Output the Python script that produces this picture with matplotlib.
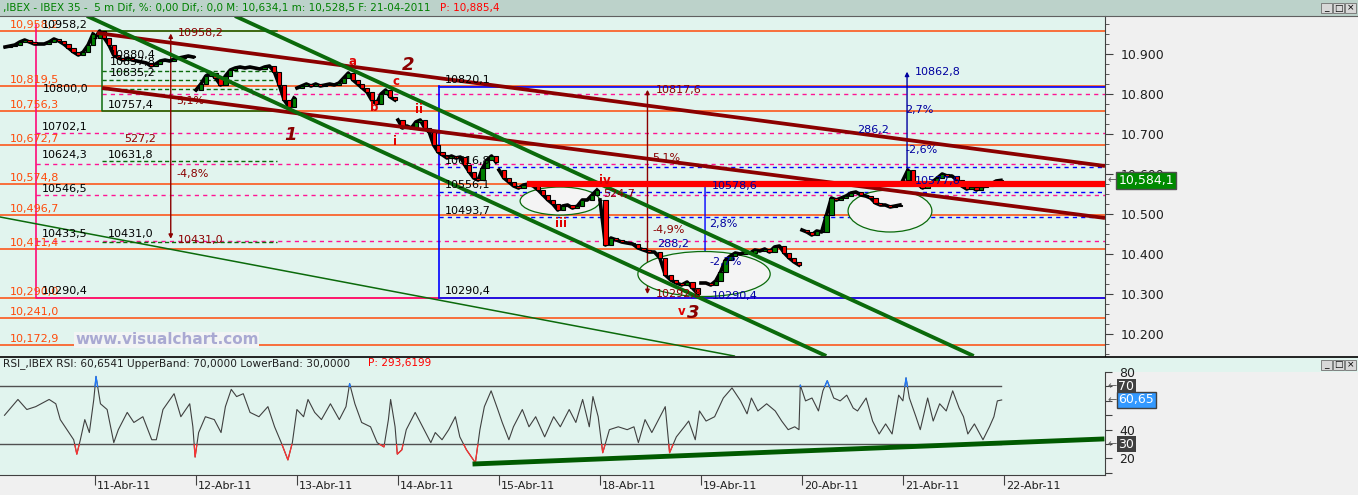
import numpy as np
import matplotlib
matplotlib.use("Agg")
import matplotlib.pyplot as plt
from matplotlib.patches import Rectangle, Ellipse

# ---------------- data ----------------
day_labels = ['11-Abr-11', '12-Abr-11', '13-Abr-11', '14-Abr-11', '15-Abr-11',
              '18-Abr-11', '19-Abr-11', '20-Abr-11', '21-Abr-11', '22-Abr-11']

# closes sampled along each session (IBEX 35, 5 min)
close_0408 = [10917.5, 10920, 10922.5, 10930, 10935, 10930, 10925, 10925, 10925, 10930,
              10937.5, 10932.5, 10925, 10915, 10905, 10897.5, 10905, 10922.5, 10950]
close_0411 = [10940, 10957.5, 10940, 10922.5, 10897.5, 10890, 10885, 10890, 10885, 10882.5,
              10880, 10877.5, 10870, 10875, 10882.5, 10885, 10882.5, 10887.5, 10890, 10892.5,
              10895, 10892.5]
close_0412 = [10810, 10825, 10845, 10852.5, 10840, 10822.5, 10845, 10860, 10865, 10867.5,
              10865, 10867.5, 10865, 10862.5, 10867.5, 10870, 10855, 10822.5, 10785, 10767.5,
              10790]
close_0413 = [10815, 10820, 10825, 10820, 10825, 10820, 10822.5, 10825, 10822.5, 10827.5,
              10840, 10852.5, 10835, 10825, 10815, 10805, 10785, 10775, 10800, 10810,
              10792.5, 10785]
close_0414 = [10735, 10715, 10720, 10715, 10730, 10735, 10715, 10705, 10672.5, 10655,
              10647.5, 10640, 10645, 10640, 10642.5, 10622.5, 10605, 10590, 10585, 10615,
              10635, 10645, 10630]
close_0415 = [10610, 10590, 10580, 10570, 10565, 10572.5, 10575, 10570, 10560, 10547.5,
              10535, 10525, 10510, 10520, 10522.5, 10515, 10520, 10535, 10535, 10547.5,
              10560]
close_0418 = [10535, 10422.5, 10440, 10435, 10430, 10427.5, 10425, 10415, 10410, 10405,
              10405, 10390, 10347.5, 10335, 10327.5, 10322.5, 10330, 10315, 10300]
close_0419 = [10327.5, 10327.5, 10322.5, 10332.5, 10355, 10385, 10395, 10402.5, 10400, 10405,
              10402.5, 10410, 10407.5, 10412.5, 10405, 10417.5, 10420, 10402.5, 10390, 10380,
              10372.5]
close_0420 = [10460, 10455, 10447.5, 10457.5, 10455, 10497.5, 10540, 10535, 10540, 10545,
              10552.5, 10555, 10547.5, 10545, 10540, 10527.5, 10522.5, 10522.5, 10517.5, 10520,
              10522.5]
close_0421 = [10585, 10610, 10577.5, 10575, 10565, 10572.5, 10580, 10590, 10600, 10595,
              10595, 10585, 10570, 10562.5, 10567.5, 10560, 10567.5, 10570, 10575, 10582.5,
              10584.1]

sessions = [close_0408, close_0411, close_0412, close_0413, close_0414,
            close_0415, close_0418, close_0419, close_0420, close_0421]
session_start = [-0.89, 0, 1, 2, 3, 4, 5, 6, 7, 8]
session_end = [-0.02, 0.97, 1.97, 2.97, 3.97, 4.97, 5.97, 6.97, 7.97, 8.97]

# RSI (time in trading days from 11-Abr, value)
rsi_t = [-0.896, -0.763, -0.675, -0.587, -0.454, -0.388, -0.344, -0.277, -0.211, -0.180,
         -0.145, -0.101, -0.056, -0.012, 0.010, 0.054, 0.120, 0.186, 0.231, 0.319,
         0.385, 0.474, 0.562, 0.607, 0.673, 0.783, 0.850, 0.938, 0.969, 0.991,
         1.026, 1.093, 1.181, 1.248, 1.291, 1.349, 1.402, 1.468, 1.535, 1.623,
         1.712, 1.778, 1.844, 1.910, 1.954, 1.999, 2.065, 2.109, 2.175, 2.242,
         2.331, 2.419, 2.485, 2.521, 2.573, 2.640, 2.728, 2.794, 2.861, 2.905,
         2.927, 2.971, 2.993, 3.038, 3.082, 3.170, 3.259, 3.325, 3.369, 3.436,
         3.502, 3.568, 3.612, 3.678, 3.766, 3.811, 3.855, 3.922, 3.988, 4.032,
         4.098, 4.143, 4.231, 4.297, 4.363, 4.452, 4.541, 4.607, 4.695, 4.761,
         4.828, 4.894, 4.930, 4.982, 5.027, 5.093, 5.181, 5.269, 5.336, 5.380,
         5.446, 5.513, 5.579, 5.646, 5.689, 5.756, 5.835, 5.878, 5.943, 5.985,
         6.050, 6.135, 6.221, 6.307, 6.392, 6.456, 6.499, 6.563, 6.650, 6.735,
         6.799, 6.863, 6.928, 6.970, 6.983, 7.035, 7.099, 7.163, 7.207, 7.250,
         7.314, 7.378, 7.443, 7.507, 7.550, 7.635, 7.699, 7.764, 7.828, 7.892,
         7.957, 7.999, 8.030, 8.063, 8.128, 8.171, 8.244, 8.299, 8.363, 8.428,
         8.492, 8.556, 8.599, 8.642, 8.707, 8.792, 8.856, 8.900, 8.934, 8.977]
rsi_v = [50, 61, 54, 56, 61, 58, 47, 40, 33, 23,
         33, 47, 38, 61, 77, 58, 54, 31, 40, 52,
         45, 49, 33, 33, 54, 65, 49, 58, 42, 21,
         38, 49, 47, 38, 56, 68, 63, 65, 52, 49,
         56, 42, 31, 19, 31, 54, 49, 61, 52, 47,
         58, 47, 56, 72, 58, 45, 42, 31, 28, 47,
         61, 42, 23, 26, 40, 52, 40, 31, 38, 33,
         40, 49, 35, 26, 17, 40, 56, 67, 54, 45,
         33, 42, 54, 42, 49, 35, 49, 42, 54, 45,
         61, 42, 63, 49, 24, 40, 42, 40, 42, 31,
         47, 38, 47, 56, 24, 35, 42, 46, 33, 53,
         46, 49, 62, 69, 60, 51, 62, 53, 58, 53,
         46, 40, 42, 40, 71, 60, 62, 53, 67, 74,
         62, 60, 64, 55, 53, 62, 46, 37, 44, 37,
         64, 60, 76, 62, 49, 40, 62, 46, 58, 53,
         67, 55, 49, 37, 44, 33, 42, 49, 60, 60.65]

# horizontal levels
orange_levels = [10958.2, 10819.5, 10756.3, 10672.7, 10574.8, 10496.7, 10411.4,
                 10290.0, 10241.0, 10172.9]
pink_levels = [10800.0, 10702.1, 10624.3, 10546.5, 10433.5]
pink_start = [0.07, -0.58, -0.58, -0.58, -0.58]
blue_levels = [10817.6, 10290.4]
blue_dashed = [10616.8, 10556.1, 10493.7]
fib_green = [10857.8, 10835.2, 10813.0, 10631.8, 10431.0]

# trend lines: (day0, price0, day1, price1)
maroon_lines = [(0.02, 10952.5, 10.0, 10620.0), (0.07, 10815.0, 10.0, 10490.0)]
green_lines = [(-0.08, 10995.0, 7.24, 10145.0), (1.386, 10995.0, 8.70, 10145.0)]
green_thin = (-0.94, 10492.5, 6.33, 10145.0)
rsi_trend = (3.762, 16.2, 9.97, 33.5)

# ellipses: (center day, center price, width days, height price)
ellipses = [(4.604, 10532.5, 0.79, 70), (6.03, 10350, 1.31, 112.5), (7.871, 10507.5, 0.83, 105)]

# ---------------- colours ----------------
BG = '#e1f4ee'
ORANGE = '#ff4a0a'
PINK = '#ff1493'
BLUE = '#0000ff'
NAVY = '#0000a0'
MAROON = '#8b0000'
DKGREEN = '#0b6a0b'


def fmt_orange(v):
    ip, dp = f"{v:.1f}".split('.')
    return f"{ip[:-3]},{ip[-3:]},{dp}"


def fmt_black(v):
    return f"{v:.1f}".replace('.', ',')


W, H = 1358, 495
fig = plt.figure(figsize=(W / 100, H / 100), dpi=100, facecolor='#f0f0f0')
plt.rcParams['font.family'] = ['DejaVu Sans']

ax = fig.add_axes([0, 1 - 356 / H, 1105 / W, 340 / H])
ax_r = fig.add_axes([0, 1 - 475 / H, 1105 / W, 118 / H])

# title bar and RSI header strip (behind the axes)
fig.patches.append(Rectangle((0, 1 - 16 / H), 1, 16 / H, transform=fig.transFigure,
                             fc='#bcd2ca', ec='none', zorder=-1))
fig.patches.append(Rectangle((0, 1 - 372 / H), 1, 15 / H, transform=fig.transFigure,
                             fc=BG, ec='none', zorder=-1))
fig.text(3 / W, 1 - 8 / H,
         ",IBEX - IBEX 35 -  5 m Dif, %: 0,00 Dif,: 0,0 M: 10,634,1 m: 10,528,5 F: 21-04-2011",
         color='#008000', fontsize=7.5, va='center', ha='left')
fig.text(440 / W, 1 - 8 / H, "P: 10,885,4", color='#ff0000', fontsize=7.5, va='center')


def buttons(ytop):
    for i, ch in enumerate(['_', '□', '×']):
        xb = (1321 + i * 12) / W
        fig.patches.append(Rectangle((xb, 1 - (ytop + 11) / H), 11 / W, 10 / H,
                                     transform=fig.transFigure, fc='#d8d8d8', ec='#707070', lw=0.6))
        fig.text(xb + 5.5 / W, 1 - (ytop + 6) / H, ch, fontsize=6.5, ha='center', va='center')


buttons(2)
buttons(359)

# ---------------- main price panel ----------------
ax.set_facecolor(BG)
ax.set_xlim(-0.9406, 10.0)
ax.set_ylim(10145, 10995)
x0, x1 = ax.get_xlim()

for lv in orange_levels:
    ax.plot([x0, x1], [lv, lv], color=ORANGE, lw=1.1, zorder=1)
    ax.text(-0.84, lv + 15, fmt_orange(lv), color=ORANGE, fontsize=8, va='center', zorder=5)

for lv, st in zip(pink_levels, pink_start):
    ax.plot([st, x1], [lv, lv], color=PINK, lw=1, ls=(0, (3, 3)), zorder=1)
for lv in blue_levels:
    ax.plot([3.41, x1], [lv, lv], color=BLUE, lw=1.2, zorder=1)
for lv in blue_dashed:
    ax.plot([3.41, x1], [lv, lv], color=BLUE, lw=1, ls=(0, (3, 3)), zorder=1)
for lv in fib_green:
    ax.plot([0.07, 1.80], [lv, lv], color=DKGREEN, lw=1, ls=(0, (3, 2)), zorder=1)

# fib box
ax.plot([1.80, 0.07, 0.07, 1.80], [10958.2, 10958.2, 10757.4, 10757.4], color=DKGREEN, lw=1.1, zorder=1)
# magenta frame
ax.plot([-0.584, -0.584, 3.41], [10972, 10290, 10290], color='#ff0a78', lw=1.2, zorder=1)
# blue verticals
ax.plot([3.41, 3.41], [10820.1, 10290.4], color=BLUE, lw=1.2, zorder=1)
ax.annotate('', xy=(6.04, 10290.4), xytext=(6.04, 10578.6),
            arrowprops=dict(arrowstyle='-|>', color=BLUE, lw=1, mutation_scale=6), zorder=2)
ax.annotate('', xy=(8.04, 10862.8), xytext=(8.04, 10577.6),
            arrowprops=dict(arrowstyle='-|>', color=NAVY, lw=1, mutation_scale=6), zorder=2)
# dark red measure arrows
for xd, ptop, pbot in [(0.75, 10958.2, 10431.0), (5.47, 10817.6, 10292.8)]:
    ax.annotate('', xy=(xd, ptop), xytext=(xd, pbot),
                arrowprops=dict(arrowstyle='<|-|>', color=MAROON, lw=1, mutation_scale=6), zorder=2)

for cx, cy, w, h in ellipses:
    ax.add_patch(Ellipse((cx, cy), w, h, fc='#f4f4f4', ec=DKGREEN, lw=0.9, zorder=2))

# price candles built from the sampled closes
for st, en, closes in zip(session_start, session_end, sessions):
    closes = np.array(closes, dtype=float)
    xs = np.linspace(st, en, len(closes))
    opens = np.concatenate([[closes[0]], closes[:-1]])
    ax.plot(xs, closes, color='black', lw=2.6, zorder=3)
    cols = np.where(closes >= opens, '#008000', '#ff0000')
    ax.bar(xs, closes - opens, bottom=opens, width=0.042, color=cols,
           edgecolor='black', linewidth=0.8, zorder=3.5)

# trend lines
for d0, p0, d1, p1 in maroon_lines:
    ax.plot([d0, d1], [p0, p1], color=MAROON, lw=2.7, zorder=4, solid_capstyle='butt')
for d0, p0, d1, p1 in green_lines:
    ax.plot([d0, d1], [p0, p1], color=DKGREEN, lw=2.8, zorder=4, solid_capstyle='butt')
ax.plot([green_thin[0], green_thin[2]], [green_thin[1], green_thin[3]], color=DKGREEN, lw=1.1, zorder=4)
ax.plot([4.31, x1], [10574.8, 10574.8], color='#ff0000', lw=4.5, zorder=4.2)

# labels
black_txt = [(-0.525, 10972.5, 10958.2), (-0.515, 10812.5, 10800.0), (0.149, 10897.5, 10880.4),
             (0.149, 10880, 10857.8), (0.149, 10852.5, 10835.2), (0.129, 10772.5, 10757.4),
             (-0.525, 10717.5, 10702.1), (-0.525, 10647.5, 10624.3), (0.129, 10647.5, 10631.8),
             (-0.525, 10562.5, 10546.5), (-0.525, 10450, 10433.5), (0.129, 10450, 10431.0),
             (-0.525, 10307.5, 10290.4), (3.465, 10835, 10820.1), (3.465, 10632.5, 10616.8),
             (3.465, 10572.5, 10556.1), (3.465, 10507.5, 10493.7), (3.465, 10307.5, 10290.4)]
for xd, yp, v in black_txt:
    ax.text(xd, yp, fmt_black(v), fontsize=8, color='black', va='center', zorder=5)

maroon_txt = [(0.822, 10952.5, '10958,2'), (0.802, 10782.5, '5,1%'), (0.287, 10687.5, '527,2'),
              (0.802, 10600, '-4,8%'), (0.822, 10435, '10431,0'), (5.554, 10810, '10817,6'),
              (5.515, 10640, '5,1%'), (5.515, 10460, '-4,9%'), (5.554, 10300, '10292,8'),
              (5.03, 10550, '524,7')]
for xd, yp, s in maroon_txt:
    ax.text(xd, yp, s, fontsize=8, color=MAROON, va='center', zorder=5)

blue_txt = [(8.119, 10855, '10862,8'), (8.02, 10760, '2,7%'), (7.545, 10710, '286,2'),
            (8.02, 10660, '-2,6%'), (8.119, 10582.5, '10577,6'), (6.109, 10570, '10578,6'),
            (6.08, 10475, '2,8%'), (5.564, 10425, '288,2'), (6.08, 10380, '-2,7%'),
            (6.109, 10295, '10290,4')]
for xd, yp, s in blue_txt:
    ax.text(xd, yp, s, fontsize=8, color=NAVY, va='center', zorder=5)

wave_txt = [(2.545, 10880, 'a'), (2.762, 10765, 'b'), (2.98, 10830, 'c'), (2.97, 10680, 'i'),
            (3.208, 10760, 'ii'), (4.614, 10475, 'iii'), (5.05, 10582.5, 'iv'), (5.81, 10255, 'v')]
for xd, yp, s in wave_txt:
    ax.text(xd, yp, s, fontsize=8.5, color='#e00000', fontweight='bold', ha='center', va='center', zorder=5)
for xd, yp, s in [(1.931, 10697.5, '1'), (3.099, 10872.5, '2'), (5.92, 10252.5, '3')]:
    ax.text(xd, yp, s, fontsize=13, color=MAROON, fontweight='bold', fontstyle='italic',
            ha='center', va='center', zorder=5)

ax.text(-0.198, 10185, 'www.visualchart.com', fontsize=11, fontweight='bold', color='#a9a9d2',
        va='center', zorder=5, bbox=dict(fc='#f2f4f4', ec='none', pad=0.5))

# right price axis
for s in ['top', 'left', 'bottom']:
    ax.spines[s].set_visible(False)
ax.spines['right'].set_color('#404040')
ax.set_xticks([])
ax.yaxis.tick_right()
ax.set_yticks(np.arange(10200, 10901, 100))
ax.set_yticks(np.arange(10150, 10996, 25), minor=True)
ax.set_yticklabels([f"{v / 1000:.3f}" for v in np.arange(10200, 10901, 100)])
ax.tick_params(axis='y', which='major', length=6, color='#404040', labelsize=9,
               labelcolor='#202020', pad=5)
ax.tick_params(axis='y', which='minor', length=3, color='#404040')
ax.text(1.002, 10584.1, '←', transform=ax.get_yaxis_transform(), fontsize=8, color='#606060',
        va='center', clip_on=False)
ax.text(1.012, 10584.1, fmt_orange(10584.1), transform=ax.get_yaxis_transform(), fontsize=9,
        color='white', va='center', clip_on=False, zorder=6,
        bbox=dict(fc='#008a00', ec='#505050', pad=1.5))

# ---------------- RSI panel ----------------
ax_r.set_facecolor(BG)
ax_r.set_xlim(x0, x1)
ax_r.set_ylim(8.5, 90.5)
for lv in [70, 30]:
    ax_r.plot([x0, 8.97], [lv, lv], color='#505050', lw=1, zorder=1)
ax_r.plot(rsi_t, rsi_v, color='#404040', lw=0.8, zorder=2)
low_part = ax_r.plot(rsi_t, rsi_v, color='#ff3030', lw=0.9, zorder=3)[0]
low_part.set_clip_path(Rectangle((x0, 0), x1 - x0, 30, transform=ax_r.transData))
high_part = ax_r.plot(rsi_t, rsi_v, color='#1e78ff', lw=0.9, zorder=3)[0]
high_part.set_clip_path(Rectangle((x0, 70), x1 - x0, 30, transform=ax_r.transData))
ax_r.plot([rsi_trend[0], rsi_trend[2]], [rsi_trend[1], rsi_trend[3]], color='#005a00', lw=3.5, zorder=4)

ax_r.text(0.003, 0.945, "RSI_,IBEX RSI: 60,6541 UpperBand: 70,0000 LowerBand: 30,0000",
          transform=ax_r.transAxes, fontsize=7.6, color='#202020', va='center')
ax_r.text(368 / 1105, 0.945, "P: 293,6199", transform=ax_r.transAxes, fontsize=7.6,
          color='#ff0000', va='center')

for s in ['top', 'left']:
    ax_r.spines[s].set_visible(False)
ax_r.spines['right'].set_color('#404040')
ax_r.spines['right'].set_bounds(8.5, 80)
ax_r.spines['bottom'].set_color('#404040')
ax_r.yaxis.tick_right()
ax_r.set_yticks(np.arange(10, 81, 10))
ax_r.set_yticklabels(['', '20', '', '40', '', '', '', '80'])
ax_r.tick_params(axis='y', length=5, color='#404040', labelsize=9, labelcolor='#202020', pad=5)
tr = ax_r.get_yaxis_transform()
for lv in [70, 60.65, 30]:
    ax_r.text(1.002, lv, '←', transform=tr, fontsize=8, color='#606060', va='center', clip_on=False)
ax_r.text(1.012, 70, '70', transform=tr, fontsize=9, color='white', va='center', clip_on=False,
          zorder=6, bbox=dict(fc='#404040', ec='none', pad=1))
ax_r.text(1.012, 60.65, '60,65', transform=tr, fontsize=9, color='white', va='center',
          clip_on=False, zorder=6, bbox=dict(fc='#3399ff', ec='#404040', pad=1.2))
ax_r.text(1.012, 30, '30', transform=tr, fontsize=9, color='white', va='center', clip_on=False,
          zorder=6, bbox=dict(fc='#404040', ec='none', pad=1))

# date axis
ax_r.set_xticks(np.arange(len(day_labels)))
ax_r.set_xticklabels([])
ax_r.tick_params(axis='x', direction='out', length=7, color='#404040')
xtr = ax_r.get_xaxis_transform()
for i, lab in enumerate(day_labels):
    ax_r.text(i + 0.02, -0.09, lab, transform=xtr, fontsize=8, color='#202020',
              va='center', ha='left', clip_on=False)

# panel separators
fig.add_artist(plt.Line2D([0, 1], [1 - 356.5 / H, 1 - 356.5 / H], transform=fig.transFigure,
                          color='black', lw=1.2))
fig.add_artist(plt.Line2D([0, 1], [1 - 16 / H, 1 - 16 / H], transform=fig.transFigure,
                          color='#606060', lw=0.8))

fig.savefig('out.png', dpi=100, facecolor=fig.get_facecolor())
